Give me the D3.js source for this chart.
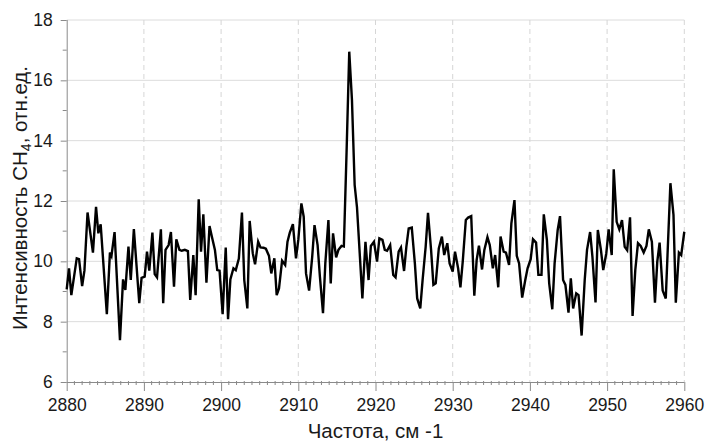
<!DOCTYPE html>
<html>
<head>
<meta charset="utf-8">
<script src="https://cdn.jsdelivr.net/npm/d3@7"></script>
<style>
  body { margin: 0; background: #fff; }
  svg { display: block; }
  text { font-family: Arial, "Liberation Sans", sans-serif; fill: #1a1a1a; }
</style>
</head>
<body>
<svg id="chart" width="705" height="441"></svg>
<script>
// wavenumber, cm-1
var wavenumbers = [
  2880.0, 2880.3, 2880.6, 2881.3, 2881.6, 2882.0, 2882.3, 2882.7, 2883.4, 2883.8,
  2884.1, 2884.4, 2885.2, 2885.6, 2885.8, 2886.2, 2886.9, 2887.3, 2887.6, 2888.0,
  2888.3, 2888.7, 2889.4, 2889.7, 2890.1, 2890.4, 2890.7, 2891.1, 2891.4, 2891.7,
  2892.2, 2892.5, 2892.8, 2893.2, 2893.5, 2893.9, 2894.2, 2894.6, 2894.9, 2895.3,
  2895.7, 2896.0, 2896.4, 2896.7, 2897.1, 2897.4, 2897.7, 2898.1, 2898.5, 2898.8,
  2899.2, 2899.5, 2899.8, 2900.2, 2900.6, 2900.9, 2901.2, 2901.6, 2901.9, 2902.3,
  2902.7, 2903.0, 2903.4, 2903.7, 2904.1, 2904.4, 2904.8, 2905.1, 2905.5, 2905.8,
  2906.2, 2906.5, 2906.9, 2907.2, 2907.5, 2907.9, 2908.3, 2908.6, 2908.9, 2909.3,
  2909.7, 2910.0, 2910.4, 2910.7, 2911.0, 2911.4, 2911.8, 2912.1, 2912.5, 2912.8,
  2913.2, 2913.5, 2913.9, 2914.2, 2914.5, 2914.9, 2915.2, 2915.6, 2915.9, 2916.25,
  2916.6, 2916.95, 2917.3, 2917.6, 2918.3, 2918.7, 2919.1, 2919.4, 2919.8, 2920.2,
  2920.5, 2920.9, 2921.2, 2921.5, 2921.9, 2922.3, 2922.6, 2923.0, 2923.3, 2923.7,
  2924.0, 2924.3, 2924.7, 2925.1, 2925.4, 2925.8, 2926.1, 2926.5, 2926.8, 2927.2,
  2927.5, 2927.8, 2928.2, 2928.6, 2928.9, 2929.3, 2929.6, 2930.0, 2930.3, 2930.7,
  2931.0, 2931.3, 2931.7, 2932.0, 2932.4, 2932.8, 2933.1, 2933.4, 2933.8, 2934.1,
  2934.5, 2934.8, 2935.2, 2935.5, 2935.9, 2936.2, 2936.6, 2936.9, 2937.3, 2937.6,
  2938.0, 2938.3, 2938.6, 2939.0, 2939.4, 2939.7, 2940.1, 2940.4, 2940.8, 2941.1,
  2941.5, 2941.8, 2942.2, 2942.5, 2942.9, 2943.2, 2943.6, 2943.9, 2944.3, 2944.6,
  2945.0, 2945.3, 2945.6, 2946.0, 2946.3, 2946.7, 2947.1, 2947.4, 2947.8, 2948.1,
  2948.5, 2948.8, 2949.2, 2949.5, 2949.9, 2950.2, 2950.6, 2950.86, 2951.24, 2951.58,
  2951.93, 2952.28, 2952.6, 2952.97, 2953.3, 2953.65, 2954.0, 2954.35, 2954.74, 2955.1,
  2955.4, 2955.8, 2956.2, 2956.5, 2956.8, 2957.2, 2957.6, 2958.2, 2958.6, 2958.9,
  2959.3, 2959.6, 2960.0
];
// CH4 intensity, rel. units
var intensity = [
  9.07, 9.77, 8.88, 10.10, 10.07, 9.18, 9.70, 11.62, 10.29, 11.81,
  10.93, 11.23, 8.25, 10.29, 10.18, 10.97, 7.39, 9.40, 9.05, 10.49,
  9.38, 11.07, 8.61, 9.45, 9.49, 10.32, 9.69, 10.95, 9.58, 9.47,
  11.06, 8.61, 10.38, 10.54, 10.97, 9.16, 10.73, 10.38, 10.35, 10.38,
  10.34, 8.72, 10.21, 8.88, 12.06, 10.32, 11.56, 9.29, 11.17, 10.82,
  10.38, 9.71, 9.69, 8.25, 10.46, 8.08, 9.40, 9.77, 9.71, 10.09,
  11.62, 9.38, 8.44, 11.34, 10.27, 9.90, 10.65, 10.46, 10.45, 10.42,
  10.18, 9.60, 10.10, 8.88, 9.10, 10.02, 9.88, 10.65, 10.95, 11.23,
  10.10, 10.71, 11.92, 11.48, 9.60, 9.03, 10.15, 11.20, 10.54, 9.49,
  8.28, 9.93, 11.37, 9.27, 10.93, 10.13, 10.38, 10.51, 10.49, 13.6,
  16.95, 15.35, 12.53, 11.80, 8.77, 10.65, 9.38, 10.51, 10.65, 9.99,
  10.76, 10.71, 10.38, 10.35, 10.54, 9.55, 9.47, 10.32, 10.46, 9.68,
  10.49, 11.09, 11.12, 9.93, 8.77, 8.44, 9.38, 10.49, 11.61, 10.38,
  9.22, 9.27, 10.43, 10.82, 10.21, 10.60, 9.93, 9.66, 10.32, 9.77,
  9.14, 9.99, 11.37, 11.45, 11.50, 8.86, 10.04, 10.52, 9.73, 10.38,
  10.80, 10.54, 9.77, 10.21, 9.14, 10.82, 10.32, 10.29, 9.88, 11.26,
  12.03, 10.18, 9.93, 8.80, 9.38, 9.77, 10.07, 10.73, 10.62, 9.55,
  9.55, 11.56, 10.71, 9.27, 8.41, 9.93, 11.04, 11.50, 9.38, 9.22,
  8.30, 9.44, 8.44, 8.94, 8.88, 7.54, 9.38, 10.38, 10.97, 10.15,
  8.64, 11.04, 10.38, 9.71, 10.27, 11.06, 10.21, 13.05, 11.31, 11.06,
  11.37, 10.48, 10.37, 11.46, 8.19, 9.71, 10.60, 10.51, 10.29, 10.51,
  11.06, 10.65, 8.63, 9.99, 10.62, 9.03, 8.77, 12.59, 11.54, 8.63,
  10.29, 10.21, 10.98
];
var xTicks = [2880, 2890, 2900, 2910, 2920, 2930, 2940, 2950, 2960];
var yTicks = [6, 8, 10, 12, 14, 16, 18];

(function () {
  var svg = d3.select('#chart');
  var plotL = 66.7, plotR = 684.3, plotT = 20, plotB = 382;

  var x = d3.scaleLinear().domain([2880, 2960]).range([plotL, plotR]);
  var y = d3.scaleLinear().domain([6, 18]).range([plotB, plotT]);

  // grid
  svg.append('g').selectAll('line').data(yTicks.filter(function (t) { return t > 6; }))
    .enter().append('line')
    .attr('x1', plotL).attr('x2', plotR)
    .attr('y1', function (d) { return y(d); }).attr('y2', function (d) { return y(d); })
    .attr('stroke', '#dcdcdc').attr('stroke-width', 1);

  svg.append('g').selectAll('line').data(xTicks.filter(function (t) { return t > 2880; }))
    .enter().append('line')
    .attr('x1', function (d) { return x(d); }).attr('x2', function (d) { return x(d); })
    .attr('y1', plotT).attr('y2', plotB)
    .attr('stroke', '#d6d6d6').attr('stroke-width', 1)
    .attr('stroke-dasharray', '5,4');

  // axes
  var xAxis = d3.axisBottom(x).tickValues(xTicks).tickSize(9).tickPadding(8).tickFormat(d3.format('d'));
  var gx = svg.append('g').attr('transform', 'translate(0,' + plotB + ')').call(xAxis);
  var yAxis = d3.axisLeft(y).tickValues(yTicks).tickSize(6).tickPadding(8);
  var gy = svg.append('g').attr('transform', 'translate(' + plotL + ',0)').call(yAxis);

  [gx, gy].forEach(function (g) {
    g.select('.domain').attr('stroke', '#8a8a8a');
    g.selectAll('.tick line').attr('stroke', '#8a8a8a');
    g.selectAll('.tick text').attr('font-size', 17.5).attr('fill', '#1a1a1a')
      .attr('font-family', 'Arial, "Liberation Sans", sans-serif');
  });
  gy.select('.domain').attr('d', 'M0.5,' + plotT + 'V' + plotB);
  gx.select('.domain').attr('d', 'M' + plotL + ',0.5H' + plotR);

  // minor ticks
  var minorX = d3.range(2881, 2960, 1).filter(function (v) { return v % 10 !== 0; });
  svg.append('g').selectAll('line').data(minorX).enter().append('line')
    .attr('x1', function (d) { return x(d); }).attr('x2', function (d) { return x(d); })
    .attr('y1', plotB - 1).attr('y2', plotB + 3)
    .attr('stroke', '#8a8a8a');
  var minorY = [7, 9, 11, 13, 15, 17];
  svg.append('g').selectAll('line').data(minorY).enter().append('line')
    .attr('x1', plotL - 4).attr('x2', plotL)
    .attr('y1', function (d) { return y(d); }).attr('y2', function (d) { return y(d); })
    .attr('stroke', '#8a8a8a');

  // data line
  var pts = wavenumbers.map(function (w, i) { return [w, intensity[i]]; });
  var line = d3.line().x(function (d) { return x(d[0]); }).y(function (d) { return y(d[1]); });
  svg.append('path').datum(pts)
    .attr('d', line)
    .attr('fill', 'none')
    .attr('stroke', '#000')
    .attr('stroke-width', 2.4)
    .attr('stroke-linejoin', 'miter');

  // axis titles
  svg.append('text')
    .attr('x', (plotL + plotR) / 2).attr('y', 438)
    .attr('text-anchor', 'middle').attr('font-size', 20.5)
    .text('Частота, см -1');

  var yt = svg.append('text')
    .attr('transform', 'translate(27,' + ((plotT + plotB) / 2 - 3) + ') rotate(-90)')
    .attr('text-anchor', 'middle').attr('font-size', 20.5);
  yt.append('tspan').text('Интенсивность CH');
  yt.append('tspan').attr('font-size', 14).attr('dy', 4).text('4');
  yt.append('tspan').attr('dy', -4).text(', отн.ед.');
})();
</script>
</body>
</html>
